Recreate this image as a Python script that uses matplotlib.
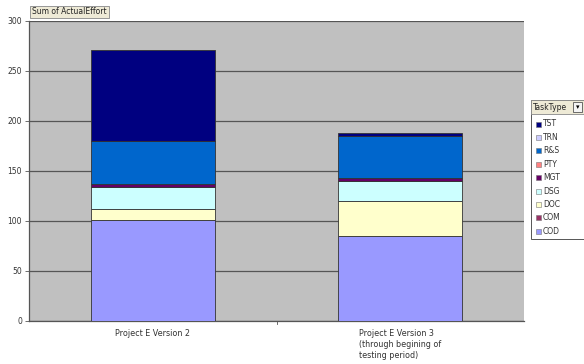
import matplotlib.pyplot as plt
from matplotlib.patches import Rectangle
import numpy as np

# data
projects = ['Project E Version 2',
            'Project E Version 3\n(through begining of\ntesting period)']
task_types = ['COD', 'COM', 'DOC', 'DSG', 'MGT', 'PTY', 'R&S', 'TRN', 'TST']
efforts = {
    'COD': [101.5, 85],
    'COM': [0, 0],
    'DOC': [10.5, 35],
    'DSG': [22, 20],
    'MGT': [3, 3],
    'PTY': [0, 0],
    'R&S': [43, 42],
    'TRN': [0, 0],
    'TST': [91, 3],
}
task_colors = {
    'COD': '#9999FF', 'COM': '#993366', 'DOC': '#FFFFCC', 'DSG': '#CCFFFF',
    'MGT': '#660066', 'PTY': '#FF8080', 'R&S': '#0066CC', 'TRN': '#CCCCFF',
    'TST': '#000080',
}
legend_order = ['TST', 'TRN', 'R&S', 'PTY', 'MGT', 'DSG', 'DOC', 'COM', 'COD']
yticks = [0, 50, 100, 150, 200, 250, 300]

W, H = 584, 364
fig = plt.figure(figsize=(W / 100, H / 100), dpi=100)
fig.set_facecolor('white')
ax = fig.add_axes([29 / W, 1 - 321 / H, 495 / W, 300 / H])
ax.set_facecolor('#C0C0C0')

x = np.arange(len(projects))
bottom = np.zeros(len(projects))
for t in task_types:
    vals = np.array(efforts[t], dtype=float)
    ax.bar(x, vals, width=0.5, bottom=bottom, color=task_colors[t],
           edgecolor='#333333', linewidth=0.6, zorder=3)
    bottom += vals

ax.set_xlim(-0.5, 1.5)
ax.set_ylim(0, 300)
ax.set_yticks(yticks)
ax.set_yticklabels([str(v) for v in yticks], fontsize=5.5, color='#333333')
ax.yaxis.grid(True, color='#555555', linewidth=0.9, zorder=1)
ax.set_axisbelow(True)

ax.set_xticks(x)
ax.set_xticklabels([])
ax.tick_params(axis='x', length=0)
ax.tick_params(axis='y', length=3, width=0.6, color='#555555', pad=2)
# category separator tick
ax.plot([0.5, 0.5], [0, -3], color='#555555', lw=0.6, clip_on=False)
for xi, lab in zip(x, projects):
    ax.text(xi, -8, lab, ha='center', va='top', multialignment='left',
            fontsize=5.8, color='#333333', linespacing=1.3)

for side in ['top', 'right']:
    ax.spines[side].set_visible(False)
for side in ['left', 'bottom']:
    ax.spines[side].set_color('#555555')
    ax.spines[side].set_linewidth(0.9)

# field button
fig.text(32 / W, 1 - 12 / H, 'Sum of ActualEffort', fontsize=5.5,
         color='#222222', ha='left', va='center',
         bbox=dict(boxstyle='square,pad=0.25', fc='#EEEAD6', ec='#888888', lw=0.6))

# legend box
lx0, ly0, lx1, ly1 = 531, 100, 590, 239
fig.patches.append(Rectangle((lx0 / W, 1 - ly1 / H), (lx1 - lx0) / W,
                             (ly1 - ly0) / H, transform=fig.transFigure,
                             fc='white', ec='#555555', lw=0.7))
fig.patches.append(Rectangle((lx0 / W, 1 - 114 / H), (lx1 - lx0) / W,
                             14 / H, transform=fig.transFigure,
                             fc='#EEEAD6', ec='#888888', lw=0.6))
fig.text(533 / W, 1 - 107 / H, 'TaskType', fontsize=5.5, color='#222222',
         ha='left', va='center')
fig.patches.append(Rectangle((573 / W, 1 - 112 / H), 9 / W, 10 / H,
                             transform=fig.transFigure,
                             fc='#F4F4F4', ec='#555555', lw=0.6))
fig.text(577.5 / W, 1 - 107.5 / H, '\u25BE', fontsize=5, color='black',
         ha='center', va='center')
for i, t in enumerate(legend_order):
    yc = 124 + i * 13.4
    fig.patches.append(Rectangle((536 / W, 1 - (yc + 2.5) / H), 5 / W, 5 / H,
                                 transform=fig.transFigure,
                                 fc=task_colors[t], ec='#777777', lw=0.4))
    fig.text(543 / W, 1 - yc / H, t, fontsize=5.5, color='#333333',
             ha='left', va='center')

fig.savefig('out.png', dpi=100)
